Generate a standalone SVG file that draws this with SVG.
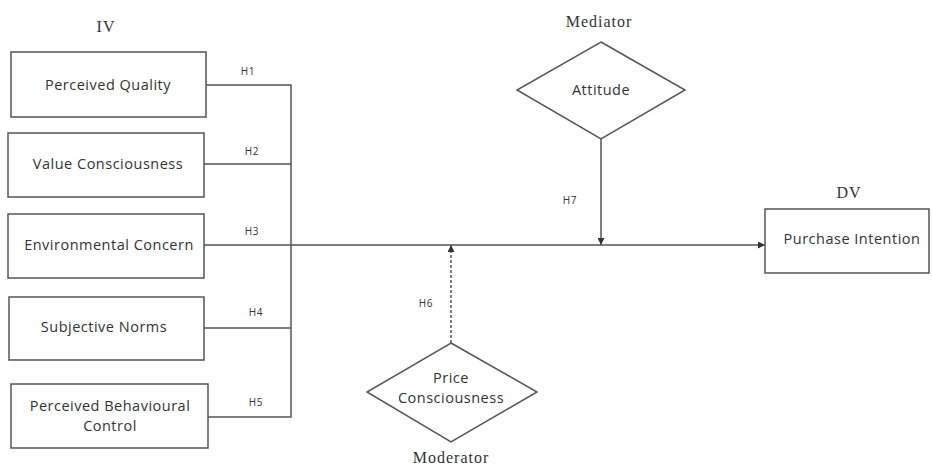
<svg xmlns="http://www.w3.org/2000/svg" width="932" height="467" viewBox="0 0 932 467">
<defs>
<style>
.box{fill:#fff;stroke:#555;stroke-width:1.5}
.ln{fill:none;stroke:#555;stroke-width:1.5}
.dash{fill:none;stroke:#555;stroke-width:1.5;stroke-dasharray:3 2}
.t{font-family:"Open Sans","Liberation Sans",sans-serif;font-size:14.5px;letter-spacing:0.5px;fill:#333;text-anchor:middle}
.h{font-family:"Open Sans","Liberation Sans",sans-serif;font-size:10px;letter-spacing:0.8px;fill:#333;text-anchor:middle}
.s{font-family:"Liberation Serif",serif;font-size:16px;letter-spacing:1px;fill:#333;text-anchor:middle}
</style>
<marker id="arr" viewBox="0 0 10 10" refX="10" refY="5" markerWidth="7" markerHeight="7" markerUnits="userSpaceOnUse" orient="auto">
<path d="M0,0 L10,5 L0,10 z" fill="#333"/>
</marker>
</defs>
<rect width="932" height="467" fill="#fff"/>
<text class="s" x="106" y="32">IV</text>
<text class="s" x="599" y="27">Mediator</text>
<text class="s" x="849" y="198">DV</text>
<text class="s" x="451" y="463">Moderator</text>
<g id="connectors">
<polyline class="ln" points="206,85 291,85 291,417 208,417"/>
<line class="ln" x1="204" y1="164" x2="291" y2="164"/>
<line class="ln" x1="204" y1="328" x2="291" y2="328"/>
<line class="ln" x1="204" y1="245" x2="765" y2="245" marker-end="url(#arr)"/>
<line class="ln" x1="601" y1="139" x2="601" y2="245" marker-end="url(#arr)"/>
<line class="dash" x1="451" y1="343" x2="451" y2="245" marker-end="url(#arr)"/>
<text class="h" x="248" y="75">H1</text>
<text class="h" x="252" y="155">H2</text>
<text class="h" x="252" y="235">H3</text>
<text class="h" x="256" y="316">H4</text>
<text class="h" x="256" y="406">H5</text>
<text class="h" x="426" y="307">H6</text>
<text class="h" x="570" y="204">H7</text>
</g>
<g id="perceived-quality"><rect class="box" x="11" y="52" width="195" height="65"/><text class="t" x="108" y="90">Perceived Quality</text></g>
<g id="value-consciousness"><rect class="box" x="8" y="133" width="196" height="64"/><text class="t" x="108" y="169">Value Consciousness</text></g>
<g id="environmental-concern"><rect class="box" x="8" y="214" width="196" height="64"/><text class="t" x="109" y="250">Environmental Concern</text></g>
<g id="subjective-norms"><rect class="box" x="9" y="297" width="195" height="63"/><text class="t" x="104" y="332">Subjective Norms</text></g>
<g id="perceived-behavioural-control"><rect class="box" x="11" y="384" width="197" height="64"/><text class="t" x="110" y="411">Perceived Behavioural</text><text class="t" x="110" y="431">Control</text></g>
<g id="purchase-intention"><rect class="box" x="765" y="209" width="164" height="64"/><text class="t" x="852" y="244">Purchase Intention</text></g>
<g id="attitude"><polygon class="box" points="601,42 685,90 601,139 517,90"/><text class="t" x="601" y="95">Attitude</text></g>
<g id="price-consciousness"><polygon class="box" points="451,343 537,392 451,442 367,392"/><text class="t" x="451" y="383">Price</text><text class="t" x="451" y="403">Consciousness</text></g>
</svg>
